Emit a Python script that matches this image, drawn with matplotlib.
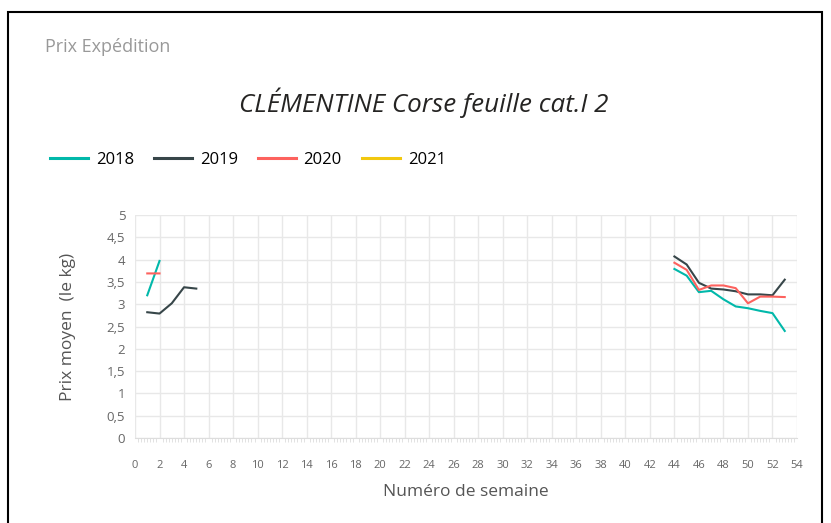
import matplotlib
matplotlib.use("Agg")
import matplotlib.pyplot as plt
from matplotlib.ticker import MultipleLocator, FuncFormatter
from matplotlib.patches import Rectangle

plt.rcParams['font.family'] = ['Open Sans', 'DejaVu Sans']

# Data
weeks_2018 = [1, 2, None, 44, 45, 46, 47, 48, 49, 50, 51, 52, 53]
vals_2018 = [3.2, 3.97, None, 3.79, 3.64, 3.27, 3.30, 3.11, 2.95, 2.91, 2.85, 2.80, 2.40]
weeks_2019 = [1, 2, 3, 4, 5, None, 44, 45, 46, 47, 48, 49, 50, 51, 52, 53]
vals_2019 = [2.82, 2.79, 3.02, 3.38, 3.35, None, 4.07, 3.89, 3.48, 3.35, 3.33, 3.29, 3.22, 3.22, 3.20, 3.55]
weeks_2020 = [1, 2, None, 44, 45, 46, 47, 48, 49, 50, 51, 52, 53]
vals_2020 = [3.69, 3.69, None, 3.93, 3.77, 3.32, 3.42, 3.42, 3.36, 3.02, 3.17, 3.17, 3.16]
weeks_2021 = []
vals_2021 = []

series = [
    ("2018", weeks_2018, vals_2018, "#01B8AA"),
    ("2019", weeks_2019, vals_2019, "#374649"),
    ("2020", weeks_2020, vals_2020, "#FD625E"),
    ("2021", weeks_2021, vals_2021, "#F2C80F"),
]

W, H = 831, 523
fig = plt.figure(figsize=(W / 100, H / 100), dpi=100)
fig.patches.append(Rectangle((8 / W, -0.1), (822 - 8) / W, 1.1 - 12 / H,
                             transform=fig.transFigure, fill=False,
                             edgecolor="black", linewidth=1.5))

ax = fig.add_axes([135 / W, 1 - 438 / H, (797 - 135) / W, (438 - 215) / H])

def to_float(lst):
    return [float('nan') if v is None else v for v in lst]

handles = []
for name, xs, ys, col in series:
    h, = ax.plot(to_float(xs), to_float(ys), color=col, linewidth=1.5, label=name)
    handles.append(h)

ax.set_xlim(0, 54)
ax.set_ylim(0, 5)
ax.xaxis.set_major_locator(MultipleLocator(2))
ax.xaxis.set_minor_locator(MultipleLocator(0.25))
ax.yaxis.set_major_locator(MultipleLocator(0.5))
ax.yaxis.set_major_formatter(FuncFormatter(lambda v, p: ("%g" % v).replace(".", ",")))
ax.grid(True, which="major", color="#e8e8e8", linewidth=1)
ax.set_axisbelow(True)
for s in ["top", "right", "left"]:
    ax.spines[s].set_visible(False)
ax.spines["bottom"].set_color("#dddddd")
ax.tick_params(axis="x", which="major", length=0, labelsize=8, labelcolor="#666666", pad=16)
ax.tick_params(axis="x", which="minor", length=3, color="#dddddd")
ax.tick_params(axis="y", length=0, labelsize=9.5, labelcolor="#666666", pad=7)

ax.set_xlabel("Numéro de semaine", fontsize=12.5, color="#555555", labelpad=9)
ax.set_ylabel("Prix moyen  (le kg)", fontsize=12.5, color="#555555", labelpad=22)

fig.text(45 / W, 1 - 47 / H, "Prix Expédition", fontsize=13, color="#999999",
         ha="left", va="center")
fig.text(424 / W, 1 - 103 / H, "CLÉMENTINE Corse feuille cat.I 2", fontsize=18.7,
         style="italic", color="#252423", ha="center", va="center")

leg = fig.legend(handles=handles, loc="center left", bbox_to_anchor=(50 / W, 1 - 160 / H),
                 ncol=4, frameon=False, fontsize=12, handlelength=2.3,
                 columnspacing=1.2, handletextpad=0.45, borderaxespad=0, borderpad=0)
for l in leg.get_lines():
    l.set_linewidth(2.2)

fig.savefig("out.png", dpi=100)
